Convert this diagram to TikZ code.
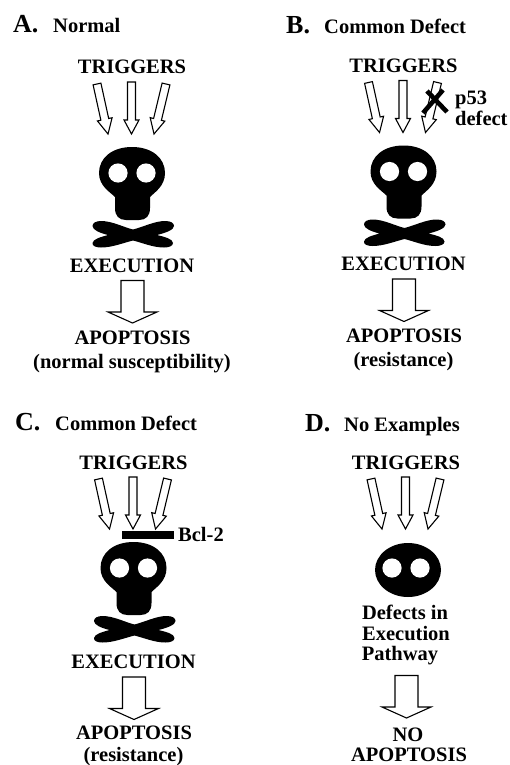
\documentclass[tikz,border=0pt]{standalone}
\usepackage{fontspec}
\setmainfont{Liberation Serif}
\usetikzlibrary{calc}
\tikzset{
  lbl/.style={font=\fontsize{20.5}{21}\selectfont\bfseries,inner sep=0pt,text=black,anchor=base},
  lblw/.style={lbl,anchor=base west},
  letter/.style={font=\fontsize{26}{26}\selectfont\bfseries,inner sep=0pt,anchor=base west},
  hollow/.style={draw=black,fill=white,line width=1.1pt,line join=miter},
  ink/.style={fill=black,draw=none},
  eye/.style={fill=white,draw=none},
  mark53/.style={draw=black,line width=4.6pt},
}
% \blockarrow{from}{to}{half shaft}{half head}{head length}
\newcommand{\blockarrow}[5]{%
  \coordinate (sh) at ($(#2)!#5pt!(#1)$);
  \draw[hollow] ($(#1)!#3pt!90:(#2)$) -- ($(sh)!#3pt!90:(#2)$) -- ($(sh)!#4pt!90:(#2)$) -- (#2)
    -- ($(sh)!#4pt!-90:(#2)$) -- ($(sh)!#3pt!-90:(#2)$) -- ($(#1)!#3pt!-90:(#2)$) -- cycle;
}
\newcommand{\triggers}{%
  \node[lbl] (trig) at (132,74) {TRIGGERS};
  \coordinate (t1) at (97,84); \coordinate (h1) at (108,134);
  \coordinate (t2) at (131.5,82); \coordinate (h2) at (131.5,134);
  \coordinate (t3) at (166,84); \coordinate (h3) at (154,134);
  \blockarrow{t1}{h1}{4}{7.5}{15}
  \blockarrow{t2}{h2}{4}{7.5}{14}
  \blockarrow{t3}{h3}{4}{7.5}{15}
}
\newcommand{\eyes}{%
  \fill[eye] (118,173) circle (9.6);
  \fill[eye] (146,173) circle (9.6);
}
\newcommand{\skull}{%
  \fill[ink] (132,147) .. controls (152,147) and (165,158) .. (165,173)
    .. controls (165,186) and (155,192) .. (150,197)
    -- (150,208) .. controls (150,216) and (146,220) .. (139,220)
    -- (126,220) .. controls (119,220) and (115,216) .. (115,208)
    -- (115,197) .. controls (110,192) and (99,186) .. (99,173)
    .. controls (99,158) and (112,147) .. (132,147) -- cycle;
  \eyes
  \fill[ink] (133,229.5) .. controls (143,227) and (155,221) .. (165,221)
    .. controls (171,221) and (174,223) .. (174,226)
    .. controls (174,230) and (165,233) .. (157,235)
    .. controls (165,237) and (173,239) .. (173,243)
    .. controls (173,246) and (169,247.5) .. (164,247.5)
    .. controls (153,247.5) and (143,243) .. (133,240.5)
    .. controls (123,243) and (112,247.5) .. (101,247.5)
    .. controls (96,247.5) and (92,246) .. (92.5,243)
    .. controls (93,239) and (101,237) .. (108,235)
    .. controls (100,233) and (92.5,230) .. (92.5,226)
    .. controls (92.5,223) and (96,221) .. (101,221)
    .. controls (112,221) and (123,227) .. (133,229.5) -- cycle;
}
\newcommand{\bigarrow}{%
  \coordinate (bt) at (132.5,280.5); \coordinate (bh) at (132.5,323);
  \blockarrow{bt}{bh}{11.5}{24.5}{11}
}
\begin{document}
\begin{tikzpicture}[x=1pt,y=-1pt]
\useasboundingbox[fill=white] (0,0) rectangle (510,765);
% Panel A
\node[letter] (atitle) at (13,33) {A.};
\node[lblw] (aname) at (53,33) {Normal};
\begin{scope}[name prefix=a-]
  \triggers \skull
  \node[lbl] (exec) at (132,272) {EXECUTION};
  \bigarrow
  \node[lbl] (apo) at (132.5,344) {APOPTOSIS};
  \node[lbl] (sub) at (132,368) {(normal susceptibility)};
\end{scope}
% Panel B
\node[letter] (btitle) at (286,34) {B.};
\node[lblw] (bname) at (324,34) {Common Defect};
\begin{scope}[shift={(271.5,-1.5)},name prefix=b-]
  \triggers \skull
  \node[lbl] (exec) at (132,272) {EXECUTION};
  \bigarrow
  \node[lbl] (apo) at (132.5,344) {APOPTOSIS};
  \node[lbl] (sub) at (132,367.5) {(resistance)};
\end{scope}
\coordinate (x1) at (423,113); \coordinate (x2) at (443,90);
\coordinate (x3) at (427,91); \coordinate (x4) at (447,112);
\draw[mark53] (x1) -- (x2);
\draw[mark53] (x3) -- (x4);
\node[lblw] (p53) at (455,105) {p53};
\node[lblw] (defect) at (455,125) {defect};
% Panel C
\node[letter] (ctitle) at (15,430) {C.};
\node[lblw] (cname) at (55,430) {Common Defect};
\begin{scope}[shift={(1.5,395)},name prefix=c-]
  \triggers \skull
  \node[lbl] (exec) at (132,273) {EXECUTION};
  \begin{scope}[shift={(0,1.5)}]\bigarrow\end{scope}
  \node[lbl] (apo) at (132.5,344) {APOPTOSIS};
  \node[lbl] (sub) at (132,366.5) {(resistance)};
\end{scope}
\fill[ink] (122,531) rectangle (174,539);
\node[lblw] (bcl) at (178,541) {Bcl-2};
% Panel D
\node[letter] (dtitle) at (305,431) {D.};
\node[lblw] (dname) at (344,431) {No Examples};
\begin{scope}[shift={(274,395)},name prefix=d-]
  \triggers
  \fill[ink] (134,175) ellipse (33 and 27);
  \eyes
  \bigarrow
\end{scope}
\node[lbl] (def1) at (405,619) {Defects in};
\node[lbl] (def2) at (406,640) {Execution};
\node[lbl] (def3) at (400,660) {Pathway};
\node[lbl] (no) at (408,741) {NO};
\node[lbl] (apod) at (409,761) {APOPTOSIS};
\end{tikzpicture}
\end{document}
